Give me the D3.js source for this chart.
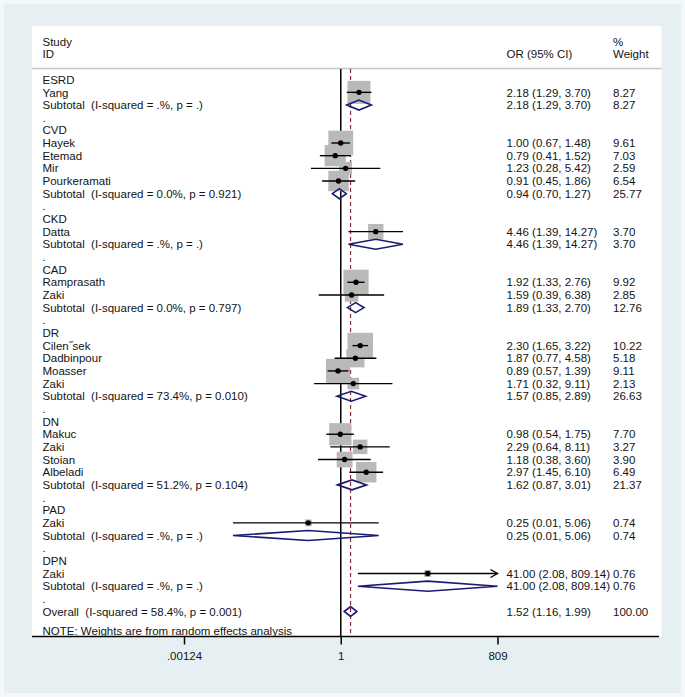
<!DOCTYPE html>
<html lang="en">
  <head>
    <meta charset="utf-8">
    <title>Forest plot</title>
    <script src="https://d3js.org/d3.v7.min.js"></script>
    <style>
      body { margin: 0; }
      text { font-family: "Liberation Sans", Arial, sans-serif; font-size: 11.5px; fill: #141414; white-space: pre; }
    </style>
  </head>
  <body>
    <script type="text/javascript">

      var w = 685;
      var h = 697;

      // one entry per row of the plot
      var labels = ["ESRD", "Yang", "Subtotal  (I-squared = .%, p = .)", ".",
                    "CVD", "Hayek", "Etemad", "Mir", "Pourkeramati", "Subtotal  (I-squared = 0.0%, p = 0.921)", ".",
                    "CKD", "Datta", "Subtotal  (I-squared = .%, p = .)", ".",
                    "CAD", "Ramprasath", "Zaki", "Subtotal  (I-squared = 0.0%, p = 0.797)", ".",
                    "DR", "Cilen\u02ddsek", "Dadbinpour", "Moasser", "Zaki", "Subtotal  (I-squared = 73.4%, p = 0.010)", ".",
                    "DN", "Makuc", "Zaki", "Stoian", "Albeladi", "Subtotal  (I-squared = 51.2%, p = 0.104)", ".",
                    "PAD", "Zaki", "Subtotal  (I-squared = .%, p = .)", ".",
                    "DPN", "Zaki", "Subtotal  (I-squared = .%, p = .)", ".",
                    "Overall  (I-squared = 58.4%, p = 0.001)"];
      // h = group heading, s = study, t = pooled total, g = spacer
      var kinds = ["h", "s", "t", "g",
                   "h", "s", "s", "s", "s", "t", "g",
                   "h", "s", "t", "g",
                   "h", "s", "s", "t", "g",
                   "h", "s", "s", "s", "s", "t", "g",
                   "h", "s", "s", "s", "s", "t", "g",
                   "h", "s", "t", "g",
                   "h", "s", "t", "g",
                   "t"];
      var orVals = [null, 2.18, 2.18, null,
                    null, 1.00, 0.79, 1.23, 0.91, 0.94, null,
                    null, 4.46, 4.46, null,
                    null, 1.92, 1.59, 1.89, null,
                    null, 2.30, 1.87, 0.89, 1.71, 1.57, null,
                    null, 0.98, 2.29, 1.18, 2.97, 1.62, null,
                    null, 0.25, 0.25, null,
                    null, 41.00, 41.00, null,
                    1.52];
      var loVals = [null, 1.29, 1.29, null,
                    null, 0.67, 0.41, 0.28, 0.45, 0.70, null,
                    null, 1.39, 1.39, null,
                    null, 1.33, 0.39, 1.33, null,
                    null, 1.65, 0.77, 0.57, 0.32, 0.85, null,
                    null, 0.54, 0.64, 0.38, 1.45, 0.87, null,
                    null, 0.01, 0.01, null,
                    null, 2.08, 2.08, null,
                    1.16];
      var hiVals = [null, 3.70, 3.70, null,
                    null, 1.48, 1.52, 5.42, 1.86, 1.27, null,
                    null, 14.27, 14.27, null,
                    null, 2.76, 6.38, 2.70, null,
                    null, 3.22, 4.58, 1.39, 9.11, 2.89, null,
                    null, 1.75, 8.11, 3.60, 6.10, 3.01, null,
                    null, 5.06, 5.06, null,
                    null, 809.14, 809.14, null,
                    1.99];
      var weights = [null, 8.27, 8.27, null,
                     null, 9.61, 7.03, 2.59, 6.54, 25.77, null,
                     null, 3.70, 3.70, null,
                     null, 9.92, 2.85, 12.76, null,
                     null, 10.22, 5.18, 9.11, 2.13, 26.63, null,
                     null, 7.70, 3.27, 3.90, 6.49, 21.37, null,
                     null, 0.74, 0.74, null,
                     null, 0.76, 0.76, null,
                     100.00];
      var overallOR = 1.52;
      var tickVals = [1 / 809, 1, 809];
      var tickLabels = [".00124", "1", "809"];

      var rows = labels.map(function(l, i) {
        return {i: i, label: l, kind: kinds[i], or: orVals[i], lo: loVals[i], hi: hiVals[i], wt: weights[i]};
      });
      var studies = rows.filter(function(d) { return d.kind == "s"; });
      var pooled = rows.filter(function(d) { return d.kind == "t"; });
      var withEst = rows.filter(function(d) { return d.or != null; });

      var xScale = d3.scaleLog()
          .domain([1 / 809, 809])
          .range([184, 497.5]);
      var yScale = d3.scaleLinear()
          .domain([0, 42])
          .range([79.7, 611.5]);
      function xc(v) { return xScale(Math.max(1 / 809, Math.min(809, v))); }

      var panel = {left: 32, right: 661.5, top: 26, bottom: 636.5};

      var svg = d3.select("body")
          .append("svg")
          .attr("width", w)
          .attr("height", h);

      // background
      svg.append("rect")
          .attr("x", 0).attr("y", 0)
          .attr("width", w).attr("height", h)
          .attr("fill", "#f4f8f9");
      svg.append("rect")
          .attr("x", 4).attr("y", 4)
          .attr("width", w - 8).attr("height", h - 8)
          .attr("fill", "#e6f0f2");
      svg.append("rect")
          .attr("x", panel.left).attr("y", panel.top)
          .attr("width", panel.right - panel.left)
          .attr("height", panel.bottom - panel.top)
          .attr("fill", "white");

      // header
      var header = svg.append("g");
      header.append("text").attr("x", 42.5).attr("y", 45.5).text("Study");
      header.append("text").attr("x", 42.5).attr("y", 58).text("ID");
      header.append("text").attr("x", 506.5).attr("y", 58).text("OR (95% CI)");
      header.append("text").attr("x", 613).attr("y", 45.5).text("%");
      header.append("text").attr("x", 613).attr("y", 58).text("Weight");
      header.append("line")
          .attr("x1", panel.left).attr("x2", panel.right)
          .attr("y1", 68.5).attr("y2", 68.5)
          .style("stroke", "#c4c4c4")
          .style("stroke-width", "1.5px");

      // reference lines
      svg.append("line")
          .attr("x1", xScale(1)).attr("x2", xScale(1))
          .attr("y1", 69).attr("y2", panel.bottom)
          .style("stroke", "black")
          .style("stroke-width", "1.5px");
      svg.append("line")
          .attr("x1", xScale(overallOR)).attr("x2", xScale(overallOR))
          .attr("y1", 69).attr("y2", panel.bottom)
          .style("stroke", "#8b2a3a")
          .style("stroke-width", "1.2px")
          .style("stroke-dasharray", "4,3");

      // weight squares
      svg.append("g")
          .selectAll("rect")
          .data(studies)
          .enter().append("rect")
          .attr("x", function(d) { return xScale(d.or) - 4 * Math.sqrt(d.wt); })
          .attr("y", function(d) { return yScale(d.i) - 4 * Math.sqrt(d.wt); })
          .attr("width", function(d) { return 8 * Math.sqrt(d.wt); })
          .attr("height", function(d) { return 8 * Math.sqrt(d.wt); })
          .attr("fill", "#b9b9b9");

      // confidence intervals
      svg.append("g")
          .selectAll("line")
          .data(studies)
          .enter().append("line")
          .attr("x1", function(d) { return xc(d.lo); })
          .attr("x2", function(d) { return xc(d.hi); })
          .attr("y1", function(d) { return yScale(d.i); })
          .attr("y2", function(d) { return yScale(d.i); })
          .style("stroke", "black")
          .style("stroke-width", "1.4px");

      // arrows where the interval leaves the axis
      svg.append("g")
          .selectAll("path")
          .data(studies.filter(function(d) { return d.hi > 809; }))
          .enter().append("path")
          .attr("d", function(d) {
            var x = xScale(809), y = yScale(d.i);
            return "M" + (x - 7) + "," + (y - 4) + "L" + x + "," + y + "L" + (x - 7) + "," + (y + 4);
          })
          .attr("fill", "none")
          .style("stroke", "black")
          .style("stroke-width", "1.4px");

      svg.append("g")
          .selectAll("circle")
          .data(studies)
          .enter().append("circle")
          .attr("cx", function(d) { return xScale(d.or); })
          .attr("cy", function(d) { return yScale(d.i); })
          .attr("r", 2.7)
          .attr("fill", "black");

      // pooled diamonds
      svg.append("g")
          .selectAll("path")
          .data(pooled)
          .enter().append("path")
          .attr("d", function(d) {
            var y = yScale(d.i);
            return "M" + xc(d.lo) + "," + y +
                   "L" + xScale(d.or) + "," + (y - 5) +
                   "L" + xc(d.hi) + "," + y +
                   "L" + xScale(d.or) + "," + (y + 5) + "Z";
          })
          .attr("fill", "none")
          .style("stroke", "#1b1b72")
          .style("stroke-width", "1.6px");

      // labels
      svg.append("g")
          .selectAll("text")
          .data(rows)
          .enter().append("text")
          .attr("x", 42.5)
          .attr("y", function(d) { return yScale(d.i); })
          .attr("dy", "0.36em")
          .text(function(d) { return d.label; });

      svg.append("g")
          .selectAll("text")
          .data(withEst)
          .enter().append("text")
          .attr("x", 506.5)
          .attr("y", function(d) { return yScale(d.i); })
          .attr("dy", "0.36em")
          .text(function(d) { return d.or.toFixed(2) + " (" + d.lo.toFixed(2) + ", " + d.hi.toFixed(2) + ")"; });

      svg.append("g")
          .selectAll("text")
          .data(withEst)
          .enter().append("text")
          .attr("x", 613)
          .attr("y", function(d) { return yScale(d.i); })
          .attr("dy", "0.36em")
          .text(function(d) { return d.wt.toFixed(2); });

      svg.append("text")
          .attr("x", 42.5).attr("y", 634.5)
          .text("NOTE: Weights are from random effects analysis");

      // x axis
      var xAxis = d3.axisBottom(xScale)
          .tickValues(tickVals)
          .tickFormat(function(d, i) { return tickLabels[i]; })
          .tickSize(8)
          .tickPadding(7);
      var gx = svg.append("g")
          .attr("transform", "translate(0," + panel.bottom + ")")
          .call(xAxis);
      gx.select(".domain").remove();
      gx.selectAll(".tick line").style("stroke", "black").style("stroke-width", "1.5px");
      gx.selectAll(".tick text").style("font-family", "Liberation Sans, Arial, sans-serif")
          .style("font-size", "11.5px").style("fill", "#141414");
      gx.append("line")
          .attr("x1", panel.left).attr("x2", 659)
          .attr("y1", 0).attr("y2", 0)
          .style("stroke", "black")
          .style("stroke-width", "1.6px");

    </script>
  </body>
</html>
